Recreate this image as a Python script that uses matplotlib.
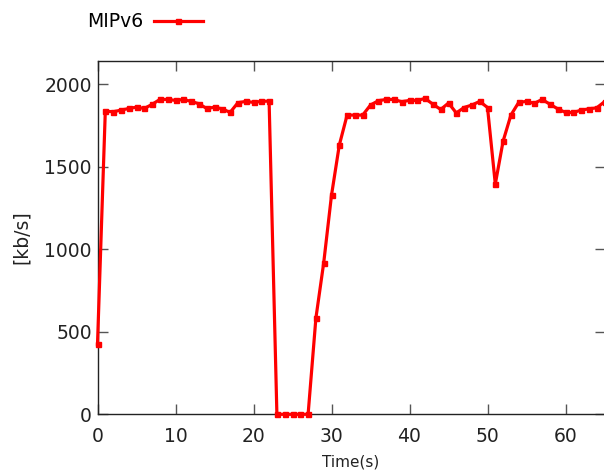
import matplotlib
matplotlib.use("Agg")
import matplotlib.pyplot as plt

time_s = list(range(0, 66))
mipv6 = [425, 1838, 1834, 1844, 1854, 1862, 1854, 1879, 1909, 1909,
         1903, 1909, 1897, 1883, 1854, 1862, 1852, 1830, 1889, 1897,
         1891, 1897, 1899, 0, 0, 0, 0, 0, 583, 918,
         1328, 1632, 1814, 1814, 1814, 1875, 1901, 1909, 1909, 1895,
         1903, 1903, 1915, 1880, 1848, 1887, 1827, 1860, 1875, 1897,
         1860, 1396, 1656, 1814, 1891, 1897, 1885, 1909, 1880, 1852,
         1830, 1830, 1844, 1852, 1858, 1895]
xticks = [0, 10, 20, 30, 40, 50, 60]
yticks = [0, 500, 1000, 1500, 2000]

fig = plt.figure(figsize=(6.04, 4.70), dpi=100)
ax = fig.add_axes([97.5/604, 1 - 414.3/470, 507/604, (414.3 - 60.5)/470])
ax.plot(time_s, mipv6, color='#ff0000', lw=2.3, marker='s', ms=3.6,
        label='MIPv6', clip_on=False, zorder=3)
ax.set_xlim(0, 65)
ax.set_ylim(0, 2145)
ax.set_xticks(xticks)
ax.set_yticks(yticks)
ax.tick_params(direction='in', length=7, width=1, color='#555555',
               top=True, right=True, labelsize=13.5, labelcolor='#222222')
ax.tick_params(axis='x', pad=9)
ax.tick_params(axis='y', pad=4)
for s in ax.spines.values():
    s.set_linewidth(1)
    s.set_color('#222222')
ax.set_xlabel('Time(s)', fontsize=11, color='#222222', labelpad=6)
ax.set_ylabel('[kb/s]', fontsize=13.5, color='#222222', labelpad=10)
ax.legend(loc='center left', bbox_to_anchor=(-0.036, 1.11), markerfirst=False,
          frameon=False, fontsize=13.5, handlelength=2.6, borderaxespad=0,
          handletextpad=0.6)
fig.savefig('out.png', dpi=100)
